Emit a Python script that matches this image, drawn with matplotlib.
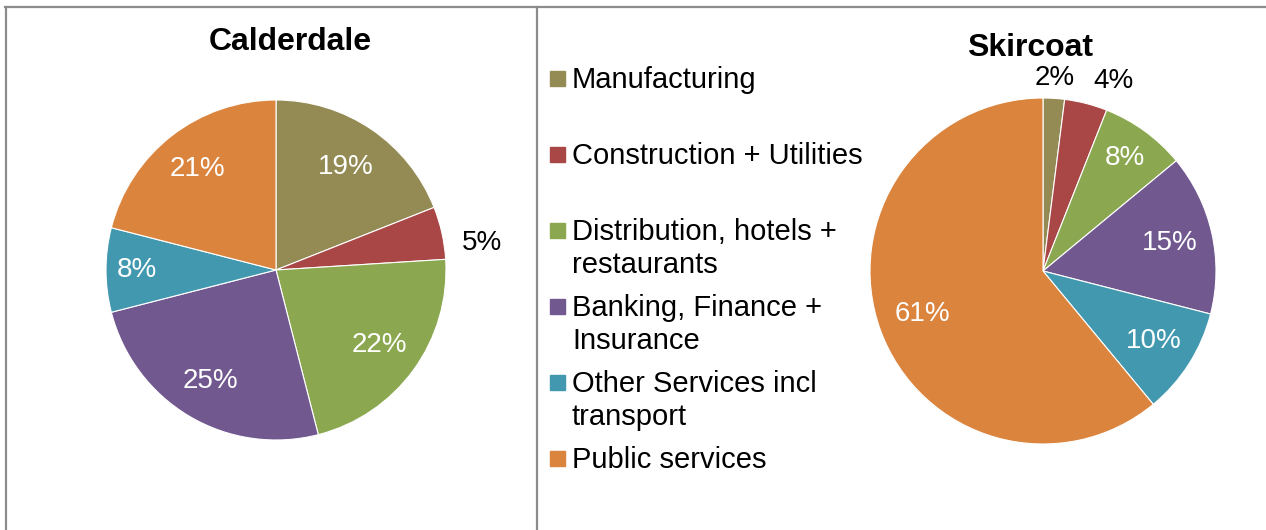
import matplotlib.pyplot as plt
import numpy as np
from matplotlib.patches import Rectangle
from matplotlib.lines import Line2D

plt.rcParams['font.family'] = ['Liberation Sans', 'DejaVu Sans']

# data
categories = ["Manufacturing", "Construction + Utilities",
              "Distribution, hotels +\nrestaurants",
              "Banking, Finance +\nInsurance",
              "Other Services incl\ntransport", "Public services"]
calderdale = [19, 5, 22, 25, 8, 21]
skircoat = [2, 4, 8, 15, 10, 61]
colors = ["#948A54", "#A84745", "#8BA850", "#71588F", "#4198AF", "#DB843D"]

# label distance (fraction of radius), angle nudge (deg) and colour per slice label
cal_dist = [0.73, 1.22, 0.75, 0.76, 0.82, 0.75]
cal_off = [0, -5, 0, 0, 0, 0]
cal_txt = ["white", "black", "white", "white", "white", "white"]
sk_dist = [1.12, 1.17, 0.81, 0.75, 0.76, 0.74]
sk_off = [0, -6, 0, 0, 0, 0]
sk_txt = ["black", "black", "white", "white", "white", "white"]

W, H = 1266, 530
fig = plt.figure(figsize=(W / 100, H / 100), dpi=100)


def px_axes(left, top, size):
    return fig.add_axes([left / W, 1 - (top + size) / H, size / W, size / H])


def draw_pie(ax, values, dists, offs, tcols):
    ax.pie(values, colors=colors, startangle=90, counterclock=False,
           radius=1, wedgeprops=dict(edgecolor="white", linewidth=0.8))
    ax.set_xlim(-1, 1)
    ax.set_ylim(-1, 1)
    ax.set_aspect("equal")
    ax.axis("off")
    total = float(sum(values))
    cum = 0.0
    for v, d, o, c in zip(values, dists, offs, tcols):
        mid = np.deg2rad(90 - (cum + v / 2) / total * 360 + o)
        cum += v
        ax.text(d * np.cos(mid), d * np.sin(mid), f"{v}%", color=c,
                fontsize=20, ha="center", va="center", clip_on=False)


ax1 = px_axes(106, 100, 340)
draw_pie(ax1, calderdale, cal_dist, cal_off, cal_txt)
ax2 = px_axes(870, 98, 346)
draw_pie(ax2, skircoat, sk_dist, sk_off, sk_txt)

# titles
fig.text(290 / W, 1 - 42 / H, "Calderdale", fontsize=23, fontweight="bold",
         ha="center", va="center")
fig.text(1030 / W, 1 - 48 / H, "Skircoat", fontsize=23, fontweight="bold",
         ha="center", va="center")

# legend
for i, (lab, col) in enumerate(zip(categories, colors)):
    yc = 78 + 76 * i
    fig.patches.append(Rectangle((550 / W, 1 - (yc + 7.5) / H), 15 / W, 15 / H,
                                 transform=fig.transFigure, color=col))
    for j, line in enumerate(lab.split("\n")):
        fig.text(572 / W, 1 - (yc + 10 + 33 * j) / H, line, fontsize=21,
                 ha="left", va="baseline")

# frame lines
lc = "#8C8C8C"
fig.add_artist(Line2D([5 / W, 1], [1 - 7 / H, 1 - 7 / H], color=lc, lw=1.6))
fig.add_artist(Line2D([6 / W, 6 / W], [0, 1 - 7 / H], color=lc, lw=1.6))
fig.add_artist(Line2D([537 / W, 537 / W], [0, 1 - 7 / H], color=lc, lw=1.6))

fig.savefig("out.png", dpi=100)
